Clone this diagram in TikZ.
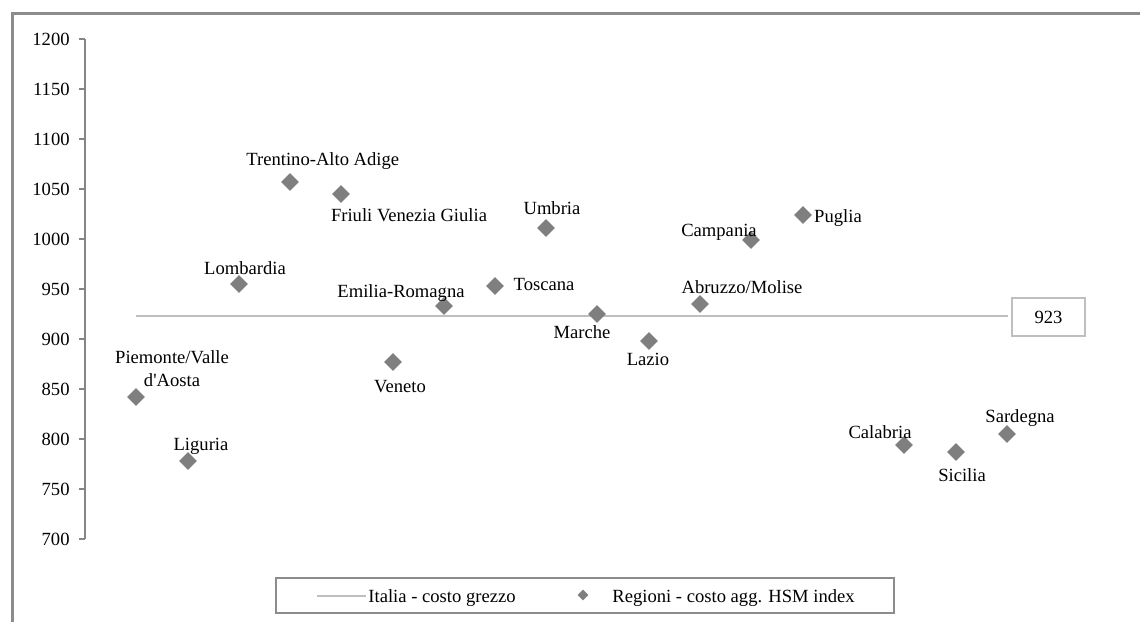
\documentclass[tikz,border=0pt]{standalone}
\usepackage{fontspec}
\setmainfont{Liberation Serif}
\usetikzlibrary{shapes.geometric}
\definecolor{framegray}{HTML}{8C8C8C}
\definecolor{axisgray}{HTML}{868686}
\definecolor{ptgray}{HTML}{7F7F7F}
\definecolor{linegray}{HTML}{BFBFBF}
\tikzset{
  pt/.style={diamond, fill=ptgray, draw=none, inner sep=0pt, minimum width=9pt, minimum height=9pt},
  lbl/.style={inner sep=0pt, anchor=base, font=\fontsize{9.3}{11.5}\selectfont},
  ticklbl/.style={inner sep=0pt, anchor=base east, font=\fontsize{9.3}{11.5}\selectfont},
}
\begin{document}
\begin{tikzpicture}[x=0.5pt,y=-0.5pt]
\useasboundingbox (0,0) rectangle (1140,622);
% outer frame (clipped at right/bottom)
\draw[framegray, line width=1.5pt] (12,622) -- (12,13) -- (1140,13);
% axis
\draw[axisgray, line width=0.9pt] (85,39) -- (85,539);
\foreach \v in {700,750,...,1200}{
  \pgfmathsetmacro{\yy}{39+1200-\v}
  \draw[axisgray, line width=0.9pt] (79,\yy) -- (85,\yy);
  \node[ticklbl] (t\v) at (70,\yy+6) {\v};
}
% reference line
\coordinate (l1) at (136,316);
\coordinate (l2) at (1008,316);
\draw[linegray, line width=1.4pt] (l1) -- (l2);
\node[draw=linegray, line width=1pt, minimum width=36.5pt, minimum height=19pt, inner sep=0pt,
      font=\fontsize{9.3}{11.5}\selectfont] (v923) at (1048.5,317) {923\hspace{5pt}};
% points
\node[pt] (p1) at (136,397) {};
\node[pt] (p2) at (188,461) {};
\node[pt] (p3) at (239,284) {};
\node[pt] (p4) at (290,182) {};
\node[pt] (p5) at (341,194) {};
\node[pt] (p6) at (393,362) {};
\node[pt] (p7) at (444,306) {};
\node[pt] (p8) at (495,286) {};
\node[pt] (p9) at (546,228) {};
\node[pt] (p10) at (597,314) {};
\node[pt] (p11) at (649,341) {};
\node[pt] (p12) at (700,304) {};
\node[pt] (p13) at (751,240) {};
\node[pt] (p14) at (803,215) {};
\node[pt] (p16) at (904,445) {};
\node[pt] (p17) at (956,452) {};
\node[pt] (p18) at (1007,434) {};
% labels
\node[inner sep=0pt, align=center, font=\fontsize{9.3}{11.5}\selectfont] (n1) at (172,369) {Piemonte/Valle\\d\textquotesingle Aosta};
\node[lbl] (n2) at (201,450) {Liguria};
\node[lbl] (n3) at (245,274) {Lombardia};
\node[lbl, anchor=base west] (n4) at (246,165) {Trentino-Alto Adige};
\node[lbl] (n5) at (409,221) {Friuli Venezia Giulia};
\node[lbl] (n6) at (400,392) {Veneto};
\node[lbl] (n7) at (401,297) {Emilia-Romagna};
\node[lbl] (n8) at (544,290) {Toscana};
\node[lbl] (n9) at (552,214) {Umbria};
\node[lbl] (n10) at (582,338) {Marche};
\node[lbl] (n11) at (648,365) {Lazio};
\node[lbl] (n12) at (742,293) {Abruzzo/Molise};
\node[lbl] (n13) at (719,236) {Campania};
\node[lbl] (n14) at (838,222) {Puglia};
\node[lbl] (n16) at (880,438) {Calabria};
\node[lbl] (n17) at (962,481) {Sicilia};
\node[lbl] (n18) at (1020,422) {Sardegna};
% legend
\draw[framegray, line width=1pt] (276,578) rectangle (894,613);
\coordinate (g1) at (317,596);
\coordinate (g2) at (366,596);
\draw[linegray, line width=1.4pt] (g1) -- (g2);
\node[lbl, anchor=base west] (leg1) at (368,602) {Italia - costo grezzo};
\node[pt, minimum width=5.5pt, minimum height=5.5pt] (legpt) at (583,595) {};
\node[lbl, anchor=base west] (leg2) at (612,602) {Regioni - costo agg. HSM index};
\end{tikzpicture}
\end{document}
